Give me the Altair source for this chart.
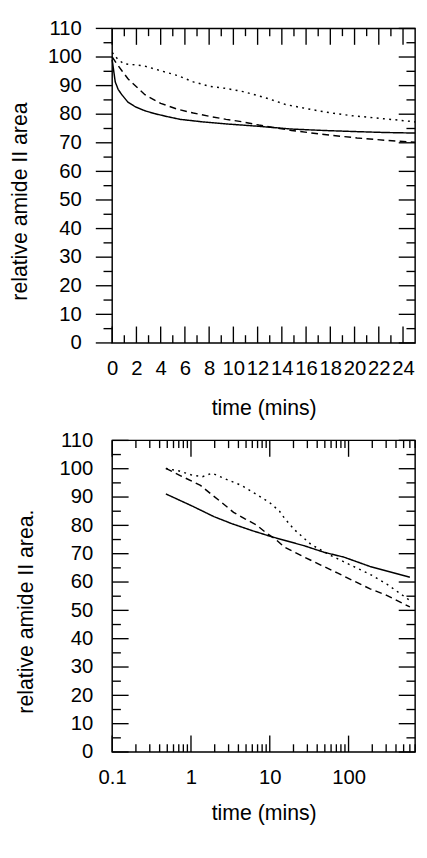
import altair as alt
import pandas as pd

FONT = "Liberation Sans"

# ---------------- data: top panel (linear time axis) ----------------
top_solid_t = [0, 0.25, 0.5, 0.8, 1.3, 1.9, 2.7, 3.5, 4.5, 5.6, 7.5, 9.4, 12, 14.8, 17.5, 20.2, 22.5, 25]
top_solid_v = [99, 91.3, 88.6, 86.8, 84.2, 82.6, 81.2, 80.2, 79.2, 78.2, 77.3, 76.6, 75.8, 74.8, 74.3, 73.9, 73.6, 73.4]

top_dashed_t = [0, 0.4, 0.8, 1.3, 2.0, 2.7, 4.0, 5.35, 6.7, 8.1, 9.4, 10.8, 12.1, 14.8, 17.5, 20.2, 22.5, 25]
top_dashed_v = [100, 97.5, 95.2, 92.4, 89.6, 86.8, 83.8, 81.8, 80.4, 79.2, 78.2, 77.3, 76.2, 74.3, 72.9, 71.7, 70.9, 70.2]

top_dotted_t = [0, 0.5, 1, 2, 2.7, 4, 5.4, 6.7, 8.1, 9.4, 10.8, 12.1, 12.9, 14.3, 15.6, 17, 18.3, 19.7, 21, 22.4, 23.7, 25]
top_dotted_v = [101.6, 99, 97.6, 97.2, 96.8, 95.2, 93.5, 91.3, 89.7, 89.0, 87.9, 86.4, 85.4, 83.4, 82.3, 81.2, 80.3, 79.5, 79.0, 78.4, 77.9, 77.3]

# ---------------- data: bottom panel (log time axis) ----------------
bot_solid_t = [0.48, 1.04, 1.95, 3.3, 5.9, 10.5, 27.4, 48.9, 87, 187, 600]
bot_solid_v = [91.1, 86.8, 83.1, 80.6, 78.2, 76.0, 72.8, 70.5, 68.8, 65.5, 61.7]

bot_dashed_t = [0.48, 0.74, 1.32, 1.85, 2.47, 3.47, 4.85, 6.8, 9.06, 11.5, 15.4, 27.4, 44.4, 72, 116, 188, 305, 600]
bot_dashed_v = [100.1, 97.5, 94.1, 90.8, 88, 84.6, 82.3, 80.1, 77.3, 75.4, 72.3, 68.8, 66, 63.2, 60.4, 57.6, 55.3, 51.2]

bot_dotted_t = [0.48, 0.71, 1.04, 1.4, 1.85, 2.72, 4.4, 6.46, 9.98, 13.3, 15.4, 20.5, 33.3, 59.3, 106, 188, 305, 600]
bot_dotted_v = [100.1, 99.2, 97.7, 97.2, 98.4, 96.4, 94.1, 91.3, 88, 85, 82.5, 78.5, 73.3, 69.4, 66, 62.7, 59.3, 53.5]

# ---------------- tick positions ----------------
y_major = [0, 10, 20, 30, 40, 50, 60, 70, 80, 90, 100, 110]
y_minor = [5, 15, 25, 35, 45, 55, 65, 75, 85, 95, 105]
top_x_major = [0, 2, 4, 6, 8, 10, 12, 14, 16, 18, 20, 22, 24]
top_x_minor = [1, 3, 5, 7, 9, 11, 13, 15, 17, 19, 21, 23]
bot_x_major = [0.1, 1, 10, 100]
bot_x_minor = [0.2, 0.3, 0.4, 0.5, 0.6, 0.7, 0.8, 0.9,
               2, 3, 4, 5, 6, 7, 8, 9,
               20, 30, 40, 50, 60, 70, 80, 90,
               200, 300, 400, 500, 600, 700]

series_names = ["solid", "dashed", "dotted"]


def long_df(ts, vs):
    rows = []
    for name, t, v in zip(series_names, ts, vs):
        for a, b in zip(t, v):
            rows.append({"t": a, "v": b, "s": name})
    return pd.DataFrame(rows)


def rule_layer(values, scale, axis, channel, side, length, W, H):
    if channel == "x":
        df = pd.DataFrame({"t": values})
        enc = dict(x=alt.X("t:Q", scale=scale, axis=axis))
        if side == "bottom":
            enc.update(y=alt.value(H), y2=alt.value(H - length))
        else:
            enc.update(y=alt.value(0), y2=alt.value(length))
    else:
        df = pd.DataFrame({"v": values})
        enc = dict(y=alt.Y("v:Q", scale=scale, axis=axis))
        if side == "left_out":
            enc.update(x=alt.value(-length), x2=alt.value(0))
        elif side == "left_in":
            enc.update(x=alt.value(0), x2=alt.value(length))
        else:
            enc.update(x=alt.value(W - length), x2=alt.value(W))
    return alt.Chart(df).mark_rule(color="black", strokeWidth=1.4).encode(**enc)


def panel(df, xscale, yscale, xaxis, yaxis, dashes, W, H, xmaj, xmin, left_side):
    lines = alt.Chart(df).mark_line(color="black", strokeWidth=1.5).encode(
        x=alt.X("t:Q", scale=xscale, axis=xaxis),
        y=alt.Y("v:Q", scale=yscale, axis=yaxis),
        strokeDash=alt.StrokeDash("s:N", scale=alt.Scale(domain=series_names, range=dashes), legend=None),
    )
    layers = [lines]
    layers.append(rule_layer(xmaj, xscale, xaxis, "x", "bottom", 17, W, H))
    layers.append(rule_layer(xmin, xscale, xaxis, "x", "bottom", 8, W, H))
    layers.append(rule_layer(xmaj, xscale, xaxis, "x", "top", 17, W, H))
    layers.append(rule_layer(xmin, xscale, xaxis, "x", "top", 8, W, H))
    layers.append(rule_layer(y_major, yscale, yaxis, "y", left_side, 17, W, H))
    layers.append(rule_layer(y_minor, yscale, yaxis, "y", left_side, 9, W, H))
    layers.append(rule_layer(y_major, yscale, yaxis, "y", "right", 17, W, H))
    layers.append(rule_layer(y_minor, yscale, yaxis, "y", "right", 9, W, H))
    return alt.layer(*layers).properties(width=W, height=H)


# ---------------- top panel ----------------
W1, H1 = 314, 326
top_df = long_df([top_solid_t, top_dashed_t, top_dotted_t], [top_solid_v, top_dashed_v, top_dotted_v])
top_x = alt.Scale(domain=[0, 25], nice=False, zero=False)
top_y = alt.Scale(domain=[0, 110], nice=False)
top_xaxis = alt.Axis(values=top_x_major, ticks=False, domain=False, grid=False, labelPadding=16,
                     labelFlush=False, labelOverlap=False, title="time (mins)", titleY=57, titleBaseline="top")
top_yaxis = alt.Axis(values=y_major, ticks=False, domain=False, grid=False, labelPadding=32,
                     labelFlush=False, labelOverlap=False, title="relative amide II area",
                     titleAngle=270, titleX=-89, titleY=179, titleBaseline="alphabetic", titleAlign="center")
top = panel(top_df, top_x, top_y, top_xaxis, top_yaxis, [[1, 0], [7, 4.5], [2, 4.5]],
            W1, H1, top_x_major, top_x_minor, "left_out")

# ---------------- bottom panel ----------------
W2, H2 = 314, 323
bot_df = long_df([bot_solid_t, bot_dashed_t, bot_dotted_t], [bot_solid_v, bot_dashed_v, bot_dotted_v])
bot_x = alt.Scale(type="log", domain=[0.1, 700], nice=False)
bot_y = alt.Scale(domain=[0, 110], nice=False)
bot_xaxis = alt.Axis(values=bot_x_major, format="~g", ticks=False, domain=False, grid=False, labelPadding=16,
                     labelFlush=False, labelOverlap=False, title="time (mins)", titleY=53, titleBaseline="top")
bot_yaxis = alt.Axis(values=y_major, ticks=False, domain=False, grid=False, labelPadding=20,
                     labelFlush=False, labelOverlap=False, title="relative amide II area.",
                     titleAngle=270, titleX=-83, titleY=177, titleBaseline="alphabetic", titleAlign="center")
bottom = panel(bot_df, bot_x, bot_y, bot_xaxis, bot_yaxis, [[1, 0], [8, 5], [2, 4.7]],
               W2, H2, bot_x_major, bot_x_minor, "left_in")

chart = alt.vconcat(top, bottom, spacing=10).properties(
    padding={"left": 0, "top": -6, "right": 0, "bottom": 0},
    background="white",
).configure_view(stroke="black", strokeWidth=1.5).configure_axis(
    labelFont=FONT, titleFont=FONT, labelFontSize=21, titleFontSize=22,
    labelColor="black", titleColor="black", titleFontWeight="normal",
)

chart.save("out.html", embed_options={"renderer": "svg", "actions": False})
